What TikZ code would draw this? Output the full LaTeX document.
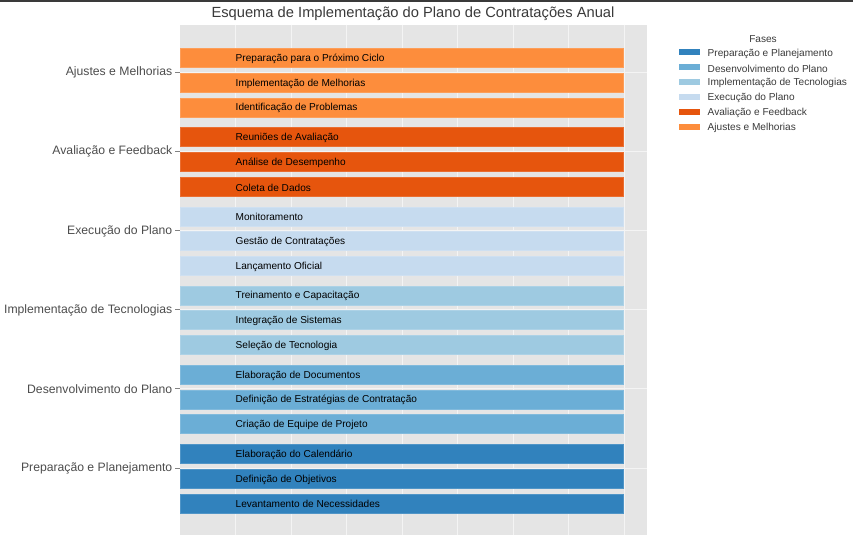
\documentclass[tikz,border=0pt]{standalone}
\usepackage{fontspec}
\setmainfont{Liberation Sans}
\definecolor{cPrep}{HTML}{3182BD}
\definecolor{cDes}{HTML}{6BAED6}
\definecolor{cImp}{HTML}{9ECAE1}
\definecolor{cExe}{HTML}{C6DBEF}
\definecolor{cAva}{HTML}{E6550D}
\definecolor{cAju}{HTML}{FD8D3C}
\definecolor{panelbg}{HTML}{E5E5E5}
\definecolor{gridc}{HTML}{F4F4F4}
\definecolor{axtext}{HTML}{4D4D4D}
\definecolor{titletext}{HTML}{3A3A3A}
\tikzset{
  barbox/.style={fill=#1, draw=#1!85!white, line width=0.7pt},
  barlabel/.style={anchor=west, inner sep=0pt, font=\fontsize{10.1}{11}\selectfont, text=black},
  axlabel/.style={anchor=east, inner sep=0pt, font=\fontsize{12.2}{13}\selectfont, text=axtext},
  legkey/.style={fill=#1, draw=none},
  leglabel/.style={anchor=west, inner sep=0pt, font=\fontsize{10.1}{11}\selectfont, text=titletext},
  gridline/.style={draw=gridc, line width=1pt},
}
\begin{document}
\begin{tikzpicture}[x=1pt,y=-1pt]
\useasboundingbox (0,0) rectangle (853,535);
\fill[white] (0,0) rectangle (853,535);
\fill[titletext] (0,0) rectangle (853,1.6);
% panel
\fill[panelbg] (180,25) rectangle (647,535);
\foreach \gx in {235.5,291,346.5,402,457.5,513,568.5,624}
  \draw[gridline] (\gx,25) -- (\gx,535);
\foreach \g in {0,...,5}
  \draw[gridline] (180,72+79.2*\g) -- (647,72+79.2*\g);
% title
\node[inner sep=0pt, font=\fontsize{14.7}{16}\selectfont, text=titletext] (title) at (413,14) {Esquema de Implementação do Plano de Contratações Anual};
% bars
\foreach \g/\col/\la/\lb/\lc in {
  0/cAju/Preparação para o Próximo Ciclo/Implementação de Melhorias/Identificação de Problemas,
  1/cAva/Reuniões de Avaliação/Análise de Desempenho/Coleta de Dados,
  2/cExe/Monitoramento/Gestão de Contratações/Lançamento Oficial,
  3/cImp/Treinamento e Capacitação/Integração de Sistemas/Seleção de Tecnologia,
  4/cDes/Elaboração de Documentos/Definição de Estratégias de Contratação/Criação de Equipe de Projeto,
  5/cPrep/Elaboração do Calendário/Definição de Objetivos/Levantamento de Necessidades}{
  \foreach \i/\lab in {0/\la,1/\lb,2/\lc}{
    \pgfmathsetmacro{\cy}{58+79.2*\g+24.7*\i}
    \draw[barbox=\col] (180.5,\cy-9.5) rectangle (623.5,\cy+9.5);
    \node[barlabel] (bar-\g-\i) at (235.5,\cy+0.8) {\lab};
  }
}
% axis labels
\foreach \g/\lab in {0/Ajustes e Melhorias,1/Avaliação e Feedback,2/Execução do Plano,3/Implementação de Tecnologias,4/Desenvolvimento do Plano,5/Preparação e Planejamento}{
  \node[axlabel] (ax-\g) at (172.5,72.5+79.2*\g) {\lab};
  \draw[axtext!70!white, line width=0.9pt] (175,72+79.2*\g) -- (179.5,72+79.2*\g);
}
% legend
\node[inner sep=0pt, font=\fontsize{10.1}{11}\selectfont, text=titletext] (legtitle) at (763,39) {Fases};
\foreach \k/\col/\lab in {0/cPrep/Preparação e Planejamento,1/cDes/Desenvolvimento do Plano,2/cImp/Implementação de Tecnologias,3/cExe/Execução do Plano,4/cAva/Avaliação e Feedback,5/cAju/Ajustes e Melhorias}{
  \fill[legkey=\col] (679,52.5+14.8*\k-3) rectangle (699.5,52.5+14.8*\k+3);
  \node[leglabel] (leg-\k) at (707.5,53.8+14.8*\k) {\lab};
}
\end{tikzpicture}
\end{document}
